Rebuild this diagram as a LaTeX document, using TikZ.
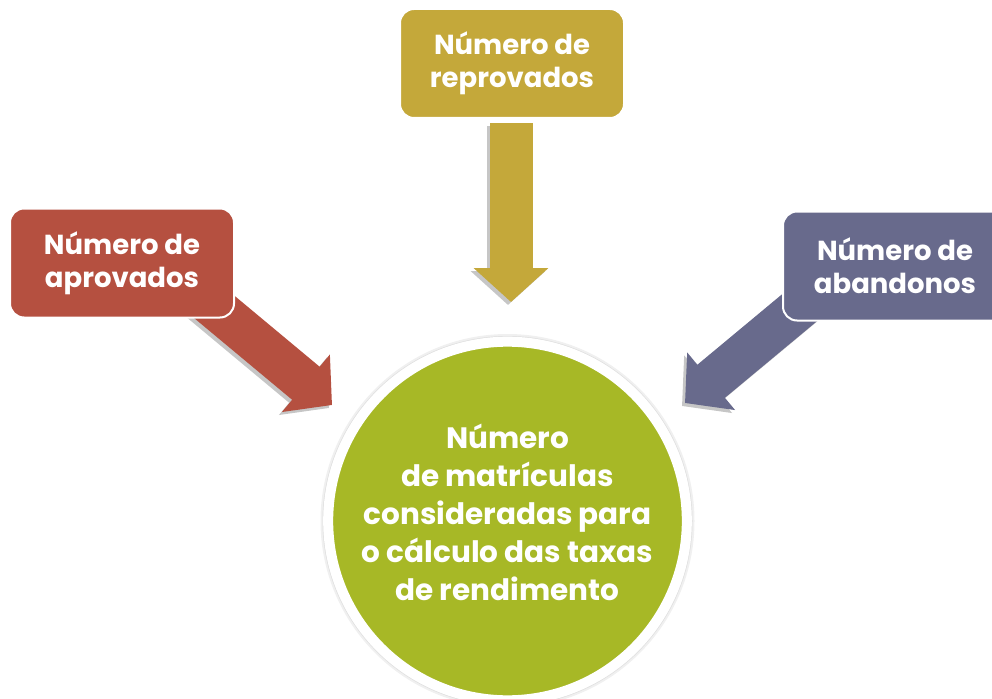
\documentclass[tikz,border=0pt]{standalone}
\usepackage{fontspec}
\setmainfont{Poppins}
\usepackage{tikz}
\usetikzlibrary{arrows.meta}

\definecolor{ouro}{RGB}{196,168,58}
\definecolor{tijolo}{RGB}{181,80,64}
\definecolor{ardosia}{RGB}{104,106,140}
\definecolor{oliva}{RGB}{167,184,38}

\tikzset{
caixa/.style={draw=white,line width=2pt,rounded corners=14pt,text=white,
  font=\bfseries\fontsize{27.5}{33}\selectfont,align=center,
  minimum width=224pt,minimum height=109pt,inner sep=0pt},
seta/.style={line width=43pt,-{Triangle[length=34pt,width=73pt]}}
}

\begin{document}
\begin{tikzpicture}[x=1pt,y=-1pt]
\useasboundingbox (0,0) rectangle (992,698);
\clip (0,0) rectangle (992,698);
\coordinate (t1) at (511,123);
\coordinate (p1) at (511,302);
\coordinate (t2) at (200,295);
\coordinate (p2) at (332,405);
\coordinate (t3) at (810,299);
\coordinate (p3) at (685,403);
\coordinate (centro) at (507.5,521);
%%% arrows with their shadows
\foreach \a/\b/\c in {t1/p1/ouro, t2/p2/tijolo, t3/p3/ardosia}{
\draw[seta,color=gray!45,transform canvas={shift={(-3pt,-3pt)}}](\a) -- (\b);
\draw[seta,color=\c](\a) -- (\b);
}
%%% boxes
\draw
(512,63.5) node[caixa,fill=ouro](rep){Número de\\reprovados}
(122,263) node[caixa,fill=tijolo](apr){Número de\\aprovados}
(895,266) node[caixa,fill=ardosia](aba){Número de\\abandonos}
;
%%% circle
\fill[gray!12] (centro) circle (187pt);
\fill[gray!25] (centro) circle (185pt);
\fill[gray!45] (centro) circle (182.5pt);
\draw (centro) node[circle,fill=oliva,draw=white,line width=10pt,minimum size=352pt,
  text=white,font=\bfseries\fontsize{29.5}{38}\selectfont,align=center,text depth=17pt]
  (mat){Número\\de matrículas\\consideradas para\\o cálculo das taxas\\de rendimento};
\end{tikzpicture}
\end{document}
